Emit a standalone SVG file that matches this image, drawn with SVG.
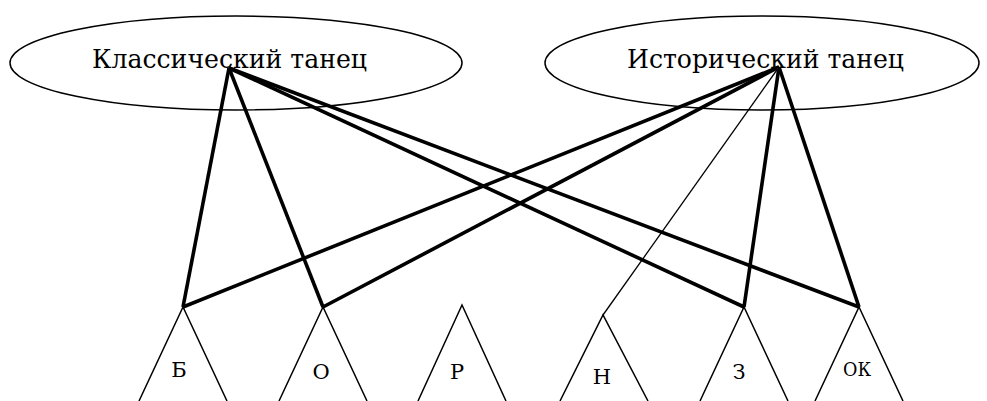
<svg xmlns="http://www.w3.org/2000/svg" width="987" height="401" viewBox="0 0 987 401">
<style>
.ell{fill:none;stroke:#000;stroke-width:1.5}
.tri{fill:none;stroke:#000;stroke-width:1.5}
text{font-family:'DejaVu Serif',serif;fill:#000;text-anchor:middle}
.big{font-size:26px}
.lbl{font-size:21px}
.thick{stroke:#000;stroke-width:3.6;fill:none}
.thin{stroke:#000;stroke-width:1.3;fill:none}
</style>
<rect width="987" height="401" fill="#fff"/>
<g id="classic">
<ellipse class="ell" cx="236" cy="63" rx="226" ry="47"/>
<text class="big" x="229.5" y="68" textLength="275" lengthAdjust="spacingAndGlyphs">Классический танец</text>
</g>
<g id="historic">
<ellipse class="ell" cx="762" cy="63" rx="217" ry="47"/>
<text class="big" x="765.5" y="68" textLength="277" lengthAdjust="spacingAndGlyphs">Исторический танец</text>
</g>
<g id="b">
<polyline class="tri" points="139,401 183,307 227,401"/>
<text class="lbl" x="179" y="377">Б</text>
</g>
<g id="o">
<polyline class="tri" points="279,401 323,307 367,401"/>
<text class="lbl" x="321" y="379">О</text>
</g>
<g id="r">
<polyline class="tri" points="418,401 462,305 506,401"/>
<text class="lbl" x="457" y="379">Р</text>
</g>
<g id="n">
<polyline class="tri" points="560,401 603,315 648,401"/>
<text class="lbl" x="602" y="384">Н</text>
</g>
<g id="z">
<polyline class="tri" points="700,401 744,307 788,401"/>
<text class="lbl" x="739" y="379">З</text>
</g>
<g id="ok">
<polyline class="tri" points="815,401 859,307 903,401"/>
<text class="lbl" x="857" y="376" style="font-size:19px" textLength="28" lengthAdjust="spacingAndGlyphs">ОК</text>
</g>
<g id="connectors">
<line class="thick" x1="229" y1="68" x2="183" y2="307"/>
<line class="thick" x1="229" y1="68" x2="323" y2="307"/>
<line class="thick" x1="229" y1="68" x2="744" y2="307"/>
<line class="thick" x1="229" y1="68" x2="859" y2="307"/>
<line class="thick" x1="779" y1="67" x2="183" y2="307"/>
<line class="thick" x1="779" y1="67" x2="323" y2="307"/>
<line class="thin" x1="779" y1="67" x2="603" y2="315"/>
<line class="thick" x1="779" y1="67" x2="744" y2="307"/>
<line class="thick" x1="779" y1="67" x2="859" y2="307"/>
</g>
</svg>
